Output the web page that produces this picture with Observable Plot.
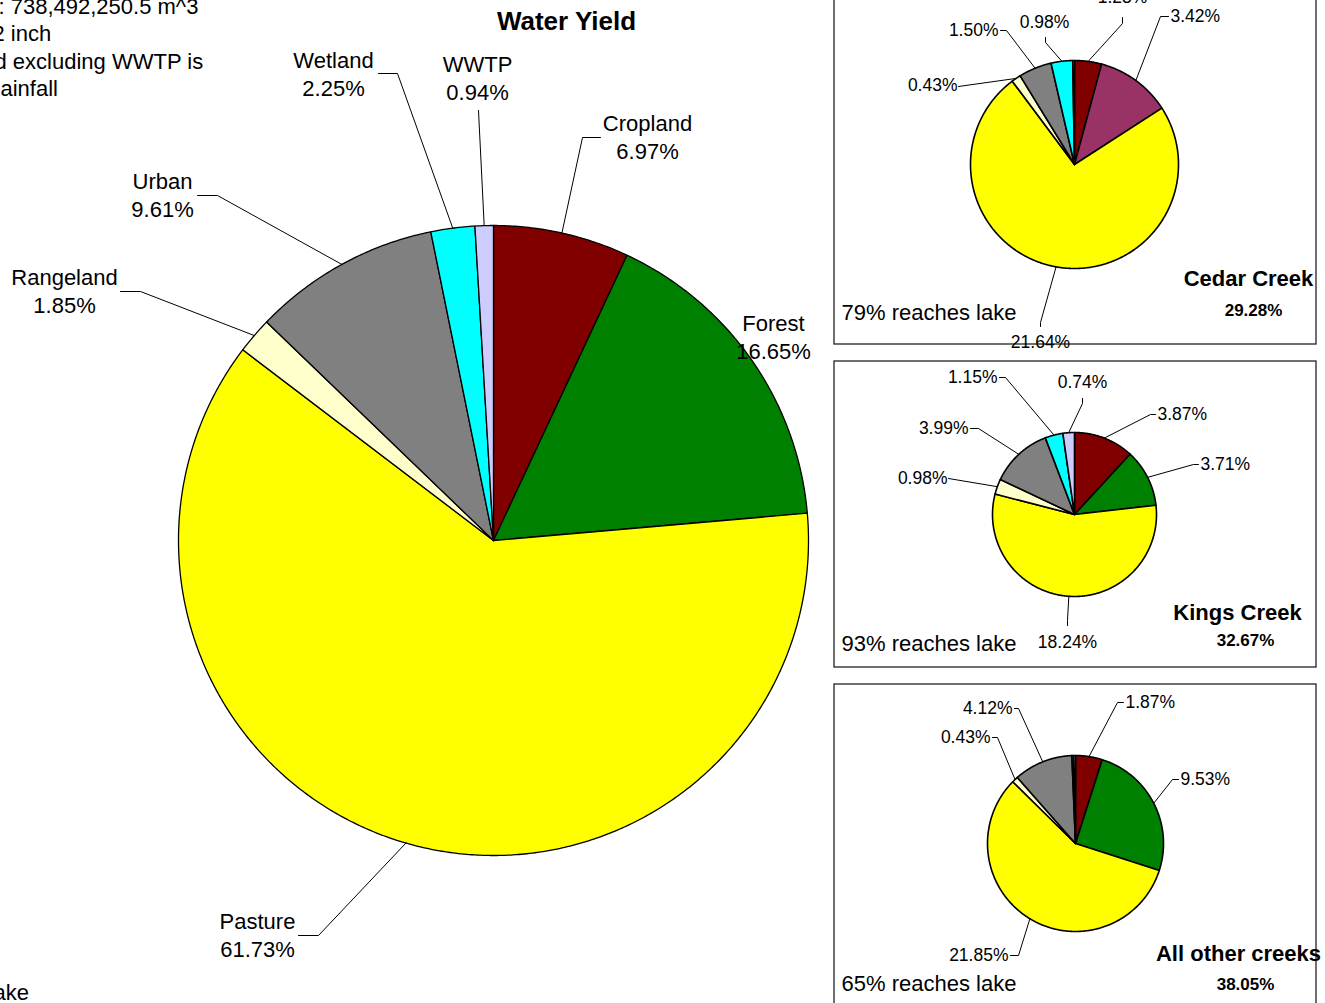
<!DOCTYPE html>
<html>
<head>
<meta charset="utf-8">
<script src="https://cdn.jsdelivr.net/npm/d3@7"></script>
<script src="https://cdn.jsdelivr.net/npm/@observablehq/plot@0.6"></script>
<style>
html, body { margin: 0; padding: 0; background: #fff; overflow: hidden; }
#chart { width: 1325px; height: 1003px; overflow: hidden; position: relative; }
</style>
</head>
<body>
<div id="chart"></div>
<script>
// ---------------- DATA ----------------
const categories = ["Cropland", "Forest", "Pasture", "Rangeland", "Urban", "Wetland", "WWTP"];
const categoryColors = ["#800000", "#008000", "#FFFF00", "#FFFFCC", "#808080", "#00FFFF", "#CCCCFF"];
const cedarColors = ["#800000", "#993366", "#FFFF00", "#FFFFCC", "#808080", "#00FFFF", "#CCCCFF"];

// Share of total water yield (%)
const watershedShares = [6.97, 16.65, 61.73, 1.85, 9.61, 2.25, 0.94];
const cedarShares = [1.23, 3.42, 21.64, 0.43, 1.50, 0.98, 0.08];
const kingsShares = [3.87, 3.71, 18.24, 0.98, 3.99, 1.15, 0.74];
const otherShares = [1.87, 9.53, 21.85, 0.43, 4.12, 0.12, 0.13];

const creekNames = ["Cedar Creek", "Kings Creek", "All other creeks"];
const creekTotals = [29.28, 32.67, 38.05];
const reachesLake = [79, 93, 65];

const titleText = "Water Yield";
const noteLines = [": 738,492,250.5 m^3", "2 inch", "d excluding WWTP is", "ainfall"];
const bottomNote = "ake";

// ---------------- LAYOUT ----------------
const mainPie = {cx: 493, cy: 540, r: 315, sw: 1.3};
const creekPies = [
  {cx: 1074, cy: 164, r: 104, sw: 1.6},
  {cx: 1074, cy: 514, r: 82, sw: 1.6},
  {cx: 1075, cy: 843, r: 88, sw: 1.6}
];
const creekBoxes = [
  {x1: 834, x2: 1316, y1: -10, y2: 344},
  {x1: 834, x2: 1316, y1: 361, y2: 667},
  {x1: 834, x2: 1316, y1: 684, y2: 1030}
];
const creekTitlePos = [[1248, 278, 1253, 310], [1237, 612, 1245, 640], [1238, 953, 1245, 984]];
const reachesPos = [[841, 312], [841, 643], [841, 983]];

const mainLabelLayout = [
  {t: [647, 136], lead: [[600, 137], [582, 137]]},
  {t: [773, 336], lead: null},
  {t: [257, 934], lead: [[298, 935], [318, 935]]},
  {t: [64, 290], lead: [[120, 291], [140, 291]]},
  {t: [162, 194], lead: [[197, 195], [217, 195]]},
  {t: [333, 73], lead: [[378, 73], [397, 73]]},
  {t: [477, 77], lead: [[478, 110]]}
];
const creekLabelLayout = [
  [
    {t: [1122, -3], a: "middle", lead: [[1122, 17], [1122, 23]]},
    {t: [1170, 16], a: "start", lead: [[1168, 16], [1160, 16]]},
    {t: [1040, 342], a: "middle", lead: [[1040, 326], [1040, 322]]},
    {t: [957, 85], a: "end", lead: [[958, 86]]},
    {t: [998, 30], a: "end", lead: [[1000, 30], [1006, 30]]},
    {t: [1044, 22], a: "middle", lead: [[1045, 37], [1045, 42]]},
    null
  ],
  [
    {t: [1157, 414], a: "start", lead: [[1155, 414], [1150, 414]]},
    {t: [1200, 464], a: "start", lead: [[1198, 464], [1193, 464]]},
    {t: [1067, 642], a: "middle", lead: [[1067, 625], [1067, 620]]},
    {t: [947, 478], a: "end", lead: [[948, 478]]},
    {t: [968, 428], a: "end", lead: [[970, 428], [978, 428]]},
    {t: [997, 377], a: "end", lead: [[999, 377], [1005, 377]]},
    {t: [1082, 382], a: "middle", lead: [[1082, 398], [1082, 403]]}
  ],
  [
    {t: [1125, 702], a: "start", lead: [[1123, 702], [1117, 702]]},
    {t: [1180, 779], a: "start", lead: [[1178, 779], [1172, 779]]},
    {t: [1008, 955], a: "end", lead: [[1010, 955], [1018, 955]]},
    {t: [990, 737], a: "end", lead: [[992, 737], [997, 737]]},
    {t: [1012, 708], a: "end", lead: [[1014, 708], [1018, 708]]},
    null,
    null
  ]
];

// ---------------- BUILD ----------------
const fmt = v => v.toFixed(2) + "%";
const pieGen = d3.pie().sort(null).value(d => d).startAngle(0).endAngle(2 * Math.PI);

function buildPie(shares, colors, pie, id) {
  const arcs = pieGen(shares);
  const pts = [];
  const mids = [];
  arcs.forEach((a, i) => {
    const key = id + "-" + i;
    pts.push({key, color: colors[i], x: pie.cx, y: pie.cy});
    const n = Math.max(2, Math.ceil((a.endAngle - a.startAngle) / (Math.PI / 360)));
    for (let k = 0; k <= n; k++) {
      const t = a.startAngle + (a.endAngle - a.startAngle) * k / n;
      pts.push({key, color: colors[i], x: pie.cx + pie.r * Math.sin(t), y: pie.cy - pie.r * Math.cos(t)});
    }
    pts.push({key, color: colors[i], x: pie.cx, y: pie.cy});
    const m = (a.startAngle + a.endAngle) / 2;
    mids.push([pie.cx + pie.r * Math.sin(m), pie.cy - pie.r * Math.cos(m)]);
  });
  return {pts, mids};
}

const mainBuilt = buildPie(watershedShares, categoryColors, mainPie, "main");
const creekBuilt = [
  buildPie(cedarShares, cedarColors, creekPies[0], "cedar"),
  buildPie(kingsShares, categoryColors, creekPies[1], "kings"),
  buildPie(otherShares, categoryColors, creekPies[2], "other")
];
const creekShareSets = [cedarShares, kingsShares, otherShares];

const mainLabels = [];
const leaders = [];
categories.forEach((c, i) => {
  const L = mainLabelLayout[i];
  mainLabels.push({x: L.t[0], y: L.t[1], text: c + "\n" + fmt(watershedShares[i])});
  if (L.lead) {
    const key = "mL" + i;
    L.lead.forEach(p => leaders.push({key, x: p[0], y: p[1]}));
    leaders.push({key, x: mainBuilt.mids[i][0], y: mainBuilt.mids[i][1]});
  }
});
const creekLabels = [];
creekShareSets.forEach((shares, p) => {
  shares.forEach((v, i) => {
    const L = creekLabelLayout[p][i];
    if (!L) return;
    creekLabels.push({x: L.t[0], y: L.t[1], anchor: L.a, text: fmt(v)});
    const key = "c" + p + "-" + i;
    L.lead.forEach(q => leaders.push({key, x: q[0], y: q[1]}));
    leaders.push({key, x: creekBuilt[p].mids[i][0], y: creekBuilt[p].mids[i][1]});
  });
});

const creekTitles = creekNames.map((n, i) => ({x: creekTitlePos[i][0], y: creekTitlePos[i][1], text: n}));
const creekTotalsLbl = creekTotals.map((v, i) => ({x: creekTitlePos[i][2], y: creekTitlePos[i][3], text: fmt(v)}));
const reachesLbl = reachesLake.map((v, i) => ({x: reachesPos[i][0], y: reachesPos[i][1], text: v + "% reaches lake"}));
const noteX = [-2, -8, -6, 0];
const notes = noteLines.map((t, i) => ({x: noteX[i], y: 6 + i * 27.5, text: t}));

const font = "'Liberation Sans', Arial, Helvetica, sans-serif";

const chart = Plot.plot({
  width: 1325,
  height: 1003,
  margin: 0,
  x: {type: "identity", axis: null},
  y: {type: "identity", axis: null},
  color: {type: "identity"},
  style: {fontFamily: font, background: "#fff", color: "#000"},
  marks: [
    Plot.rect(creekBoxes, {x1: "x1", x2: "x2", y1: "y1", y2: "y2", fill: "#fff", stroke: "#222", strokeWidth: 1.3}),
    Plot.line(mainBuilt.pts, {x: "x", y: "y", z: "key", fill: "color", stroke: "#000", strokeWidth: mainPie.sw, curve: "linear"}),
    ...creekBuilt.map((b, i) => Plot.line(b.pts, {x: "x", y: "y", z: "key", fill: "color", stroke: "#000", strokeWidth: creekPies[i].sw, curve: "linear"})),
    Plot.line(leaders, {x: "x", y: "y", z: "key", stroke: "#000", strokeWidth: 1, curve: "linear"}),
    Plot.text(mainLabels, {x: "x", y: "y", text: "text", fontSize: 22, lineHeight: 1.27, textAnchor: "middle"}),
    ...["start", "middle", "end"].map(a => Plot.text(creekLabels.filter(d => d.anchor === a), {x: "x", y: "y", text: "text", fontSize: 17.5, textAnchor: a})),
    Plot.text(creekTitles, {x: "x", y: "y", text: "text", fontSize: 22, fontWeight: "bold", textAnchor: "middle"}),
    Plot.text(creekTotalsLbl, {x: "x", y: "y", text: "text", fontSize: 17, fontWeight: "bold", textAnchor: "middle"}),
    Plot.text(reachesLbl, {x: "x", y: "y", text: "text", fontSize: 22, textAnchor: "start"}),
    Plot.text([{x: 566, y: 21, text: titleText}], {x: "x", y: "y", text: "text", fontSize: 26, fontWeight: "bold", textAnchor: "middle"}),
    Plot.text(notes, {x: "x", y: "y", text: "text", fontSize: 22, textAnchor: "start"}),
    Plot.text([{x: -7, y: 992, text: bottomNote}], {x: "x", y: "y", text: "text", fontSize: 22, textAnchor: "start"})
  ]
});
document.getElementById("chart").appendChild(chart);
</script>
</body>
</html>
